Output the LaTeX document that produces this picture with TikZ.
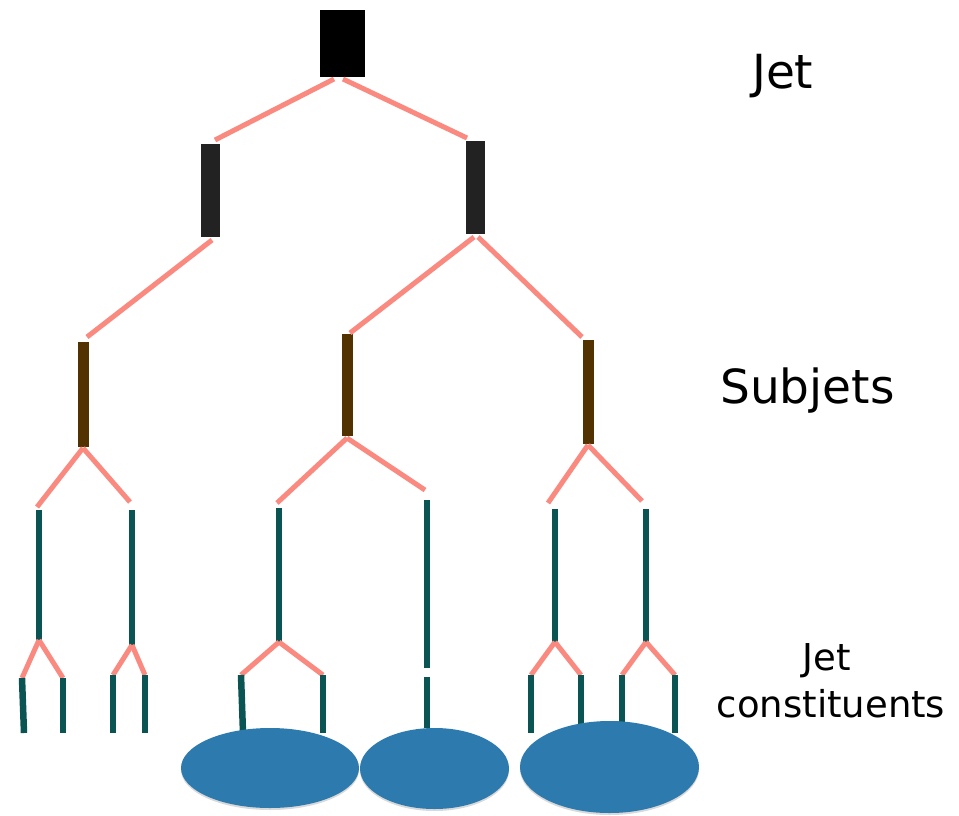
\documentclass[tikz,border=0pt]{standalone}
\usepackage{fontspec}
\setmainfont{DejaVu Sans}
\usetikzlibrary{shadows,shapes.geometric}
\definecolor{branch}{RGB}{250,138,128}
\definecolor{track}{RGB}{10,84,84}
\definecolor{subjetc}{RGB}{82,50,0}
\definecolor{jetc}{RGB}{0,0,0}
\definecolor{protoc}{RGB}{34,34,34}
\definecolor{blob}{RGB}{45,123,174}
\tikzset{
  branchline/.style={draw=branch,line width=5pt},
  trackline/.style={draw=track,line width=6.5pt},
  jetbox/.style={fill=jetc,draw=none,inner sep=0pt,minimum width=45pt,minimum height=67pt},
  protobox/.style={fill=protoc,draw=none,inner sep=0pt,minimum width=19pt,minimum height=93pt},
  subbox/.style={fill=subjetc,draw=none,inner sep=0pt,minimum width=11pt,minimum height=104pt},
  cluster/.style={ellipse,fill=blob,draw=none,inner sep=0pt,
    drop shadow={opacity=0.3,shadow xshift=0pt,shadow yshift=-2pt}},
  levellabel/.style={font=\fontsize{47}{50}\selectfont,inner sep=0pt},
  smalllabel/.style={font=\fontsize{37}{42}\selectfont,inner sep=0pt},
}
\begin{document}
\begin{tikzpicture}[x=1pt,y=-1pt]
\useasboundingbox (0,0) rectangle (959,815);

% jet and its two prongs
\node[jetbox] (jet) at (342.5,43.5) {};
\node[protobox] (pa) at (210,190.5) {};
\node[protobox] (pb) at (475,187.5) {};

% subjets
\node[subbox,minimum height=105pt] (s1) at (83,394.5) {};
\node[subbox,minimum height=102pt] (s2) at (347.5,385) {};
\node[subbox,minimum height=104pt] (s3) at (588.5,392) {};

% end points of the upper branches
\coordinate (ja) at (334,79);  \coordinate (jb) at (343,79);
\coordinate (pat) at (215,140); \coordinate (pbt) at (467,138);
\coordinate (pab) at (212,240); \coordinate (pbb1) at (474,237); \coordinate (pbb2) at (478,237);
\coordinate (s1t) at (87,337); \coordinate (s2t) at (350,333); \coordinate (s3t) at (582,337);
\coordinate (s1b) at (83,448); \coordinate (s2b) at (347,438); \coordinate (s3b) at (588,445);

\draw[branchline] (ja) -- (pat);
\draw[branchline] (jb) -- (pbt);
\draw[branchline] (pab) -- (s1t);
\draw[branchline] (pbb1) -- (s2t);
\draw[branchline] (pbb2) -- (s3t);

% long tracks below the subjets
\coordinate (at) at (39,510);  \coordinate (ab) at (39,640);
\coordinate (bt) at (132,510); \coordinate (bb) at (132,645);
\coordinate (ct) at (279,508); \coordinate (cb) at (279,642);
\coordinate (dt) at (427,500); \coordinate (db) at (427,668);
\coordinate (d2t) at (427,677); \coordinate (d2b) at (427,728);
\coordinate (et) at (555,509); \coordinate (eb) at (555,642);
\coordinate (ft) at (646,509); \coordinate (fb) at (646,642);

\draw[branchline] (s1b) -- (37,507);
\draw[branchline] (s1b) -- (130,502);
\draw[branchline] (s2b) -- (277,503);
\draw[branchline] (s2b) -- (425,490);
\draw[branchline] (s3b) -- (548,503);
\draw[branchline] (s3b) -- (642,501);

\foreach \t/\b in {at/ab,bt/bb,ct/cb,dt/db,d2t/d2b,et/eb,ft/fb}
  \draw[trackline] (\t) -- (\b);

% final splittings into constituents
\coordinate (a1t) at (22,678);  \coordinate (a1b) at (24,733);
\coordinate (a2t) at (63,678);  \coordinate (a2b) at (63,733);
\coordinate (b1t) at (113,675); \coordinate (b1b) at (113,733);
\coordinate (b2t) at (145,675); \coordinate (b2b) at (145,733);
\coordinate (c1t) at (241,675); \coordinate (c1b) at (243,733);
\coordinate (c2t) at (323,675); \coordinate (c2b) at (323,733);
\coordinate (e1t) at (531,675); \coordinate (e1b) at (531,733);
\coordinate (e2t) at (581,675); \coordinate (e2b) at (581,728);
\coordinate (f1t) at (622,675); \coordinate (f1b) at (622,728);
\coordinate (f2t) at (675,675); \coordinate (f2b) at (675,733);

\foreach \p/\k in {ab/a1t,ab/a2t,bb/b1t,bb/b2t,cb/c1t,cb/c2t,eb/e1t,eb/e2t,fb/f1t,fb/f2t}
  \draw[branchline] (\p) -- (\k);

\foreach \t/\b in {a1t/a1b,a2t/a2b,b1t/b1b,b2t/b2b,c1t/c1b,c2t/c2b,e1t/e1b,e2t/e2b,f1t/f1b,f2t/f2b}
  \draw[trackline] (\t) -- (\b);

% clusters of constituents
\node[cluster,minimum width=178pt,minimum height=80pt] (k1) at (270,768) {};
\node[cluster,minimum width=149pt,minimum height=81pt] (k2) at (434.5,768.5) {};
\node[cluster,minimum width=179pt,minimum height=92pt] (k3) at (609.5,767) {};

% level labels
\node[levellabel,anchor=base west] (ljet) at (752,88) {Jet};
\node[levellabel,anchor=base west] (lsub) at (720,403) {Subjets};
\node[smalllabel,anchor=base] (lcon1) at (827,670) {Jet};
\node[smalllabel,anchor=base] (lcon2) at (831,717) {constituents};
\end{tikzpicture}
\end{document}
